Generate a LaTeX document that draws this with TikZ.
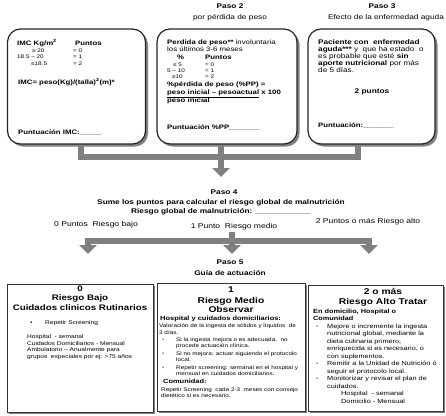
\documentclass[tikz,border=0pt]{standalone}
\usepackage{fontspec}
\setmainfont{Liberation Sans}[FakeStretch=1.22]
\usetikzlibrary{arrows.meta,shadows}
\newcommand\fsz[1]{\fontsize{#1}{#1}\selectfont}
\definecolor{bulblue}{rgb}{0.35,0.45,0.75}
\tikzset{
 lt/.style={inner sep=0pt, anchor=base west},
 ct/.style={inner sep=0pt, anchor=base},
 hd/.style={ct, font=\fsz{6.8}\bfseries},
 hdn/.style={ct, font=\fsz{6.8}},
 topb/.style={lt, font=\fsz{6.4}\bfseries},
 topn/.style={lt, font=\fsz{6.4}},
 tab/.style={lt, font=\fsz{5.2}},
 lvl/.style={ct, font=\fsz{7}},
 ttla/.style={ct, font=\fsz{8}\bfseries},
 ttlb/.style={ct, font=\fsz{8.4}\bfseries},
 sa/.style={lt, font=\fsz{5.4}},
 sb/.style={lt, font=\fsz{5.2}},
 sbb/.style={lt, font=\fsz{6.1}\bfseries},
 sc/.style={lt, font=\fsz{6}},
 scb/.style={lt, font=\fsz{6}\bfseries},
 bul/.style={lt, font=\fsz{5.5}, text=bulblue},
 rbox/.style={draw=black!85, line width=1.2pt, rounded corners=13pt, fill=white, inner sep=0pt,
   drop shadow={shadow xshift=2.5pt, shadow yshift=-2.5pt, fill=black!50, opacity=1}},
 sbox/.style={draw=black!80, line width=0.8pt, fill=white, inner sep=0pt,
   drop shadow={shadow xshift=2pt, shadow yshift=-2pt, fill=black!50, opacity=1}},
 conn/.style={draw=black!50, line width=6pt},
 arr/.style={conn, -{Triangle[width=17pt,length=9pt]}}
}
\begin{document}
\begin{tikzpicture}[x=1pt,y=-1pt]
\fill[white] (0,0) rectangle (446,415);
\useasboundingbox (0,0) rectangle (446,415);

% ---------- top boxes ----------
\node[rbox, minimum width=138pt, minimum height=115pt] (b1) at (76.5,86.5) {};
\node[rbox, minimum width=140pt, minimum height=115pt] (b2) at (227,86.5) {};
\node[rbox, minimum width=127pt, minimum height=115pt] (b3) at (371.5,86.5) {};

% headers
\node[hd]  (p2)  at (230,9)    {Paso 2};
\node[hdn] (p2s) at (230,19.5) {por pérdida de peso};
\node[hd]  (p3)  at (382,9)    {Paso 3};
\node[hdn] (p3s) at (386,19.5) {Efecto de la enfermedad aguda};

% box 1
\node[topb] (i1) at (17,45) {IMC Kg/m\textsuperscript{2}};
\node[topb] (i2) at (75,45) {Puntos};
\node[tab] (i3) at (32,52.5) {≥ 20};
\node[tab] (i4) at (17,58.5) {18.5 – 20};
\node[tab] (i5) at (31,65)   {≤18.5};
\node[tab] (i6) at (73,52.5) {= 0};
\node[tab] (i7) at (73,58.5) {= 1};
\node[tab] (i8) at (73,65)   {= 2};
\node[topb] (i9) at (18,84) {IMC= peso(Kg)/(talla)\textsuperscript{2}(m)*};
\node[topb] (i10) at (18,134) {Puntuación IMC:\_\_\_\_\_};

% box 2
\node[topn] (w1) at (167,44) {\textbf{Perdida de peso**} involuntaria};
\node[topn] (w2) at (167,51.5) {los últimos 3-6 meses};
\node[topb] (w3) at (177,59) {\%};
\node[topb] (w4) at (205,59) {Puntos};
\node[tab] (w5) at (173,66) {≤ 5};
\node[tab] (w6) at (167,72) {5 – 10};
\node[tab] (w7) at (172,78) {≥10};
\node[tab] (w8) at (205,66) {= 0};
\node[tab] (w9) at (205,72) {= 1};
\node[tab] (w10) at (205,78) {= 2};
\node[topb] (w11) at (167,86) {\%pérdida de peso (\%PP) =};
\node[topb] (w12) at (167,94) {\underline{peso inicial – pesoactual} x 100};
\node[topb] (w13) at (167,102) {peso inicial};
\node[topb] (w14) at (167,129) {Puntuación \%PP\_\_\_\_\_\_\_};

% box 3
\node[topb, font=\fsz{6.7}\bfseries] (e1) at (318,44) {Paciente con\ \ enfermedad};
\node[topn, font=\fsz{6.7}] (e2) at (318,51) {\textbf{aguda***} y\ \ que ha estado\ \ o};
\node[topn, font=\fsz{6.7}] (e3) at (318,58) {es probable que esté \textbf{sin}};
\node[topn, font=\fsz{6.7}] (e4) at (318,65) {\textbf{aporte nutricional} por más};
\node[topn, font=\fsz{6.7}] (e5) at (318,72) {de 5 días.};
\node[ct, font=\fsz{6.8}\bfseries] (e6) at (372,93) {2 puntos};
\node[topb] (e7) at (318,127) {Puntuación:\_\_\_\_\_\_\_};

% top connectors
\coordinate (c1) at (81,157);
\coordinate (c2) at (221,157);
\coordinate (c3) at (358,157);
\coordinate (t1) at (221,177);
\draw[conn] (b1.south -| c1) -- (c1) -- (c3) -- (b3.south -| c3);
\draw[conn] (b2.south -| c2) -- (c2);
\draw[arr] (c2) -- (t1);

% ---------- Paso 4 ----------
\node[hd] (p4)  at (224,194)   {Paso 4};
\node[hd] (p4a) at (221,204)   {Sume los puntos para calcular el riesgo global de malnutrición};
\node[hd] (p4b) at (221,213.5) {Riesgo global de malnutrición: \_\_\_\_\_\_\_\_\_\_\_\_};
\node[lvl] (r0) at (96,226)    {0 Puntos\ \ Riesgo bajo};
\node[lvl] (r1) at (234,228)   {1 Punto\ \ Riesgo medio};
\node[lvl] (r2) at (368,223)   {2 Puntos o más Riesgo alto};

\coordinate (m0) at (88,241);
\coordinate (m2) at (369,241);
\coordinate (mt) at (232,232);
\coordinate (a0) at (88,254);
\coordinate (a1) at (232,254);
\coordinate (a2) at (369,254);
\draw[conn] (m0) -- (m2);
\draw[arr] (mt) -- (a1);
\draw[arr] ([yshift=3pt]m0) -- (a0);
\draw[arr] ([yshift=3pt]m2) -- (a2);

% ---------- Paso 5 ----------
\node[hd] (p5)  at (230,264.5) {Paso 5};
\node[hd] (p5a) at (230,275)   {Guía de actuación};

% bottom boxes
\node[sbox, minimum width=146pt, minimum height=128pt] (ba) at (80,348) {};
\node[sbox, minimum width=148pt, minimum height=128pt] (bb) at (231,347) {};
\node[sbox, minimum width=135pt, minimum height=126pt] (bc) at (375.5,348) {};

% box A
\node[ttla] (ka1) at (80,291.5) {0};
\node[ttla] (ka2) at (80,300.5) {Riesgo Bajo};
\node[ttla] (ka3) at (80,310)   {Cuidados clinicos Rutinarios};
\node[bul, text=black] (ka4) at (30,324) {•};
\node[sa] (ka5) at (45,324)   {Repetir Screening};
\node[sa] (ka6) at (27,338.5) {Hospital\ \ - semanal};
\node[sa] (ka7) at (27,345)   {Cuidados Domiciliarios - Mensual};
\node[sa] (ka8) at (27,351.5) {Ambulatorio – Anualmente para};
\node[sa] (ka9) at (27,358)   {grupos\ \ especiales por ej: >75 años};

% box B
\node[ttlb] (kb1) at (231,292.5) {1};
\node[ttlb] (kb2) at (231,303)   {Riesgo Medio};
\node[ttlb] (kb3) at (231,312.5) {Observar};
\node[sbb] (kb4) at (160,320.5) {Hospital y cuidados domiciliarios:};
\node[sb] (kb5) at (159,327.5) {Valoración de la ingesta de sólidos y líquidos\ \ de};
\node[sb] (kb6) at (159,334)   {3 días.};
\node[bul] (kb7) at (162,341) {•};
\node[sb] (kb8) at (176,341)   {Si la ingesta mejora o es adecuada,\ \ no};
\node[sb] (kb9) at (176,347.5) {procede actuación clínica.};
\node[bul] (kb10) at (162,355) {•};
\node[sb] (kb11) at (176,355)  {Si no mejora: actuar siguiendo el protocolo};
\node[sb] (kb12) at (176,361.5) {local.};
\node[bul] (kb13) at (162,369) {•};
\node[sb] (kb14) at (176,369)  {Repetir screening: semanal en el hospital y};
\node[sb] (kb15) at (176,375.5) {mensual en cuidados domiciliarios.};
\node[sbb] (kb16) at (163,383) {Comunidad:};
\node[sb] (kb17) at (161,391)  {Repetir Screening\ \ cada 2-3\ \ meses con consejo};
\node[sb] (kb18) at (161,397.5) {dietético si es necesario.};

% box C
\node[ttlb] (kc1) at (383,294.5) {2 o más};
\node[ttlb] (kc2) at (383,304)   {Riesgo Alto Tratar};
\node[scb] (kc3) at (313,313) {En domicilio, Hospital o};
\node[scb] (kc4) at (313,320) {Comunidad};
\node[bul] (kc5) at (316,328) {•};
\node[sc] (kc6) at (327,328)   {Mejore o incremente la ingesta};
\node[sc] (kc7) at (327,335.5) {nutricional global, mediante la};
\node[sc] (kc8) at (327,343)   {dieta culinaria primero,};
\node[sc] (kc9) at (327,350.5) {enriquecida si es necesario, o};
\node[sc] (kc10) at (327,358)  {con suplementos.};
\node[bul] (kc11) at (316,365.5) {•};
\node[sc] (kc12) at (327,365.5) {Remitir a la Unidad de Nutrición ó};
\node[sc] (kc13) at (327,373)  {seguir el protocolo local.};
\node[bul] (kc14) at (316,380.5) {•};
\node[sc] (kc15) at (327,380.5) {Monitorizar y revisar el plan de};
\node[sc] (kc16) at (327,388)  {cuidados.};
\node[sc] (kc17) at (341,395.5) {Hospital\ \ - semanal};
\node[sc] (kc18) at (341,403)  {Domicilio - Mensual};
\end{tikzpicture}
\end{document}
